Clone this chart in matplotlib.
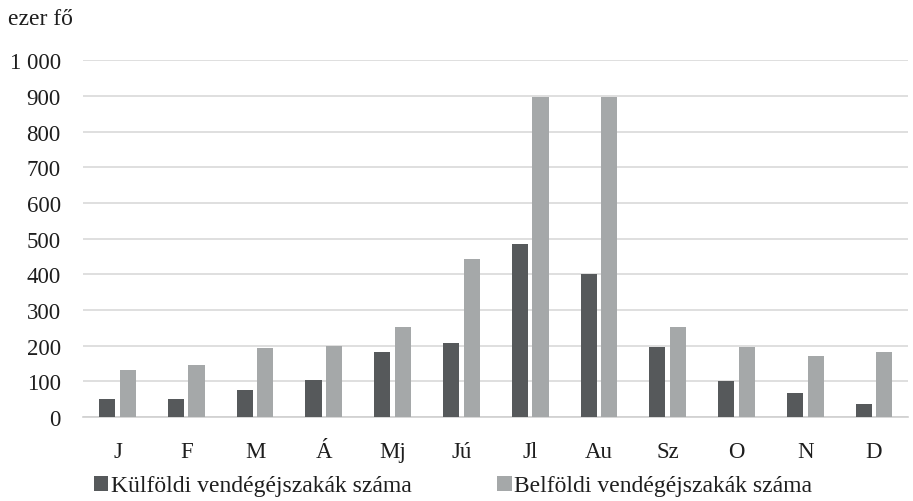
import matplotlib.pyplot as plt
import numpy as np

plt.rcParams['font.family'] = ['Liberation Serif', 'DejaVu Serif']

# Data (ezer fő)
months = ["J", "F", "M", "Á", "Mj", "Jú", "Jl", "Au", "Sz", "O", "N", "D"]
kulfoldi = [50, 50, 76, 103, 182, 208, 484, 400, 197, 101, 68, 38]
belfoldi = [132, 145, 193, 199, 253, 442, 897, 897, 253, 197, 171, 182]
y_ticks = [0, 100, 200, 300, 400, 500, 600, 700, 800, 900, 1000]
y_tick_labels = ["0", "100", "200", "300", "400", "500", "600", "700", "800", "900", "1 000"]

dark = '#56595b'
light = '#a5a8a9'
txt = '#1e1e1e'

fig = plt.figure(figsize=(9.13, 5.02), dpi=100)
ax = fig.add_axes([0.091, 0.167, 0.904, 0.711])

x = np.arange(len(months))
w = 0.235
ax.bar(x - 0.15, kulfoldi, w, color=dark, label='Külföldi vendégéjszakák száma', zorder=3)
ax.bar(x + 0.15, belfoldi, w, color=light, label='Belföldi vendégéjszakák száma', zorder=3)

ax.set_xlim(-0.5, len(months) - 0.5)
ax.set_ylim(0, 1000)
ax.set_yticks(y_ticks)
ax.set_yticklabels(y_tick_labels)
ax.set_xticks(x)
ax.set_xticklabels(months)
ax.tick_params(axis='both', length=0, labelsize=16.5, colors=txt)
ax.tick_params(axis='y', pad=16)
ax.tick_params(axis='x', pad=17)
ax.yaxis.grid(True, color='#d9d9d9', linewidth=1.2, zorder=0)
for s in ['top', 'right', 'left']:
    ax.spines[s].set_visible(False)
ax.spines['bottom'].set_color('#d0d0d0')
ax.spines['bottom'].set_linewidth(1.2)

fig.text(0.009, 0.962, 'ezer fő', fontsize=17, color=txt, va='center', ha='left')

leg = fig.legend(loc='center left', bbox_to_anchor=(0.103, 0.03), ncol=2, frameon=False,
                 fontsize=17, handlelength=0.6, handleheight=0.6, handletextpad=0.1,
                 columnspacing=3.65, borderpad=0, borderaxespad=0)
for t in leg.get_texts():
    t.set_color(txt)

fig.savefig('out.png', dpi=100)
